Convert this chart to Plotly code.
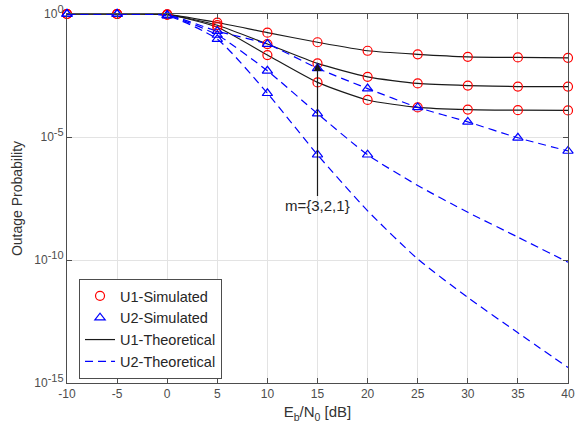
import plotly.graph_objects as go

# Eb/N0 in dB
snr_db = [-10, -5, 0, 5, 10, 15, 20, 25, 30, 35, 40]

# U1 outage probability (m = 1, 2, 3) -- theoretical and simulated coincide
u1_m1 = [1.0, 1.0, 0.96, 0.45, 0.174, 0.071, 0.032, 0.023, 0.0182, 0.0172, 0.0166]
u1_m2 = [1.0, 1.0, 0.95, 0.35, 0.060, 0.0098, 0.0028, 0.0015, 0.00123, 0.00112, 0.00112]
u1_m3 = [1.0, 1.0, 0.94, 0.29, 0.0214, 0.00166, 3.2e-4, 1.6e-4, 1.3e-4, 1.23e-4, 1.2e-4]

# U2 outage probability (theoretical)
u2_m1 = [1.0, 1.0, 0.92, 0.20, 0.060, 6.2e-3, 9.3e-4, 1.6e-4, 4.1e-5, 9.3e-6, 2.7e-6]
u2_m2 = [1.0, 1.0, 0.88, 0.14, 4.9e-3, 8.9e-5, 1.9e-6, 1.07e-7, 8.7e-9, 8.5e-10, 8.1e-11]
u2_m3 = [1.0, 1.0, 0.85, 0.095, 6.0e-4, 1.9e-6, 1.0e-8, 1.1e-10, 3.0e-12, 1.1e-13, 4.3e-15]

# number of simulated points available for U2 curves (m = 1, 2, 3)
u2_sim_count = [11, 7, 6]

ytick_vals = [1e-15, 1e-10, 1e-5, 1]
ytick_exps = ["-15", "-10", "-5", "0"]
xtick_vals = [-10, -5, 0, 5, 10, 15, 20, 25, 30, 35, 40]
xtick_text = ["-10", "-5", "0", "5", "10", "15", "20", "25", "30", "35", "40"]

FONT = "Liberation Sans, Arial, sans-serif"
ytick_text = ["10<sup><span style='font-size:11px'>%s</span></sup>" % e for e in ytick_exps]

fig = go.Figure()

u1_all = [u1_m1, u1_m2, u1_m3]
u2_all = [u2_m1, u2_m2, u2_m3]

# theoretical lines
for i, ys in enumerate(u1_all):
    fig.add_trace(go.Scatter(
        x=snr_db, y=ys, mode="lines", name="U1-Theoretical",
        line=dict(color="#1a1a1a", width=1.2, shape="spline", smoothing=0.6),
        showlegend=(i == 0), legendrank=3))
for i, ys in enumerate(u2_all):
    fig.add_trace(go.Scatter(
        x=snr_db, y=ys, mode="lines", name="U2-Theoretical",
        line=dict(color="#0000ff", width=1.2, dash="8px,5px", shape="spline", smoothing=0.6),
        showlegend=(i == 0), legendrank=4))

# simulated markers
for i, ys in enumerate(u1_all):
    fig.add_trace(go.Scatter(
        x=snr_db, y=ys, mode="markers", name="U1-Simulated",
        marker=dict(symbol="circle-open", color="#ff0000", size=9, line=dict(width=1.2)),
        showlegend=(i == 0), legendrank=1, cliponaxis=False))
for i, ys in enumerate(u2_all):
    n = u2_sim_count[i]
    fig.add_trace(go.Scatter(
        x=snr_db[:n], y=ys[:n], mode="markers", name="U2-Simulated",
        marker=dict(symbol="triangle-up-open", color="#0000ff", size=9, line=dict(width=1.2)),
        showlegend=(i == 0), legendrank=2, cliponaxis=False))

axis_common = dict(
    showline=True, linecolor="#4d4d4d", linewidth=1, mirror="ticks",
    ticks="inside", ticklen=5, tickcolor="#4d4d4d", automargin=False,
    showgrid=True, gridcolor="#e3e3e3", gridwidth=1, zeroline=False,
    tickfont=dict(family=FONT, size=12, color="#4d4d4d"),
)

fig.update_xaxes(
    range=[-10, 40], tickvals=xtick_vals, ticktext=xtick_text,
    title=dict(text="E<sub>b</sub>/N<sub>0</sub> [dB]", standoff=6,
               font=dict(family=FONT, size=15, color="#333333")),
    **axis_common)
fig.update_yaxes(
    type="log", range=[-15, 0], tickvals=ytick_vals, ticktext=ytick_text,
    title=dict(text="Outage Probability", standoff=8,
               font=dict(family=FONT, size=14, color="#333333")),
    **axis_common)

fig.add_annotation(
    x=15, y=-2.0, xref="x", yref="y",
    ax=15, ay=-7.8, axref="x", ayref="y",
    text="m={3,2,1}", showarrow=True, arrowhead=2, arrowsize=1.3, arrowwidth=1.2,
    arrowcolor="#1a1a1a",
    font=dict(family=FONT, size=15, color="#262626"))

fig.update_layout(
    width=575, height=430,
    margin=dict(l=67, r=7, t=14, b=47, autoexpand=False),
    paper_bgcolor="white", plot_bgcolor="white",
    showlegend=True,
    legend=dict(x=0.024, y=0.282, xanchor="left", yanchor="top",
                bgcolor="white", bordercolor="#4d4d4d", borderwidth=1,
                font=dict(family=FONT, size=14.5, color="#262626"),
                tracegroupgap=0, itemwidth=30),
)

fig.write_html("out.html", config={"displayModeBar": False},
               post_script="document.body.style.margin='0px';document.body.style.overflow='hidden';")
